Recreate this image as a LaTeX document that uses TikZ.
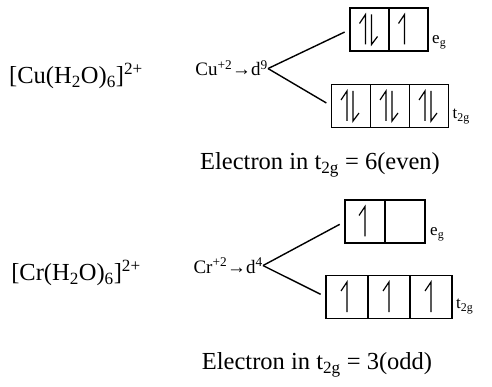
\documentclass[tikz,border=0pt]{standalone}
\usepackage{fontspec}
\setmainfont{Liberation Serif}
\usetikzlibrary{positioning,calc}
\tikzset{
  cplx/.style={font=\fontsize{24.5}{28}\selectfont, inner sep=0pt},
  ion/.style={font=\fontsize{19}{22}\selectfont, inner sep=0pt},
  lvl/.style={font=\fontsize{17}{20}\selectfont, inner sep=0pt, anchor=base west},
  orb/.style={draw, line width=1.3pt, minimum width=39pt, minimum height=43pt,
    inner sep=0pt, outer sep=0pt},
  split/.style={line width=1.4pt, shorten >=6pt},
  spinup/.pic={\draw[line width=1.2pt] (0,15) -- (0,-15) -- (-6,-6);},
  spindn/.pic={\draw[line width=1.2pt] (0,-15) -- (0,15) -- (6,7);},
}

\begin{document}
\begin{tikzpicture}[x=1pt,y=-1pt]
\useasboundingbox (0,0) rectangle (492,387);
% [Cu(H2O)6]2+, d9
\node[cplx] (cucplx) at (76,76) {[Cu(H\textsubscript{2}O)\textsubscript{6}]\textsuperscript{2+}};
\node[ion, anchor=base east] (cuion) at (268,76) {Cu\textsuperscript{+2}→d\textsuperscript{9}};
\node[orb] (cueg1) at (369.5,29.5) {};
\node[orb, right=0pt of cueg1] (cueg2) {};
\node[orb] (cut1) at (351,106) {};
\foreach \i [count=\j from 1] in {2,3}
  \node[orb, right=0pt of cut\j] (cut\i) {};
\node[lvl] (cuegl) at ($(cueg2.south east)+(4,-7)$) {e\textsubscript{g}};
\node[lvl] (cutl) at ($(cut3.south east)+(4,-9)$) {t\textsubscript{2g}};
\draw[split] (cuion.east) -- (cueg1.west);
\draw[split] (cuion.east) -- (cut1.west);
\pic at ($(cueg1.center)+(-4,0)$) {spinup};
\pic at ($(cueg1.center)+(2,0)$) {spindn};
\pic at ($(cueg2.center)+(-4,0)$) {spinup};
\foreach \i in {1,2,3} {
  \pic at ($(cut\i.center)+(-4,0)$) {spinup};
  \pic at ($(cut\i.center)+(2,0)$) {spindn};
}
\node[cplx] (cucount) at (320,165) {Electron in t\textsubscript{2g} = 6(even)};

% [Cr(H2O)6]2+, d4
\node[cplx] (crcplx) at (76,273) {[Cr(H\textsubscript{2}O)\textsubscript{6}]\textsuperscript{2+}};
\node[ion, anchor=base east] (crion) at (263,273) {Cr\textsuperscript{+2}→d\textsuperscript{4}};
\node[orb, minimum width=40pt] (creg1) at (365,221.5) {};
\node[orb, minimum width=40pt, right=0pt of creg1] (creg2) {};
\node[orb, minimum width=42pt] (crt1) at (347,297) {};
\foreach \i [count=\j from 1] in {2,3}
  \node[orb, minimum width=42pt, right=0pt of crt\j] (crt\i) {};
\node[lvl] (cregl) at ($(creg2.south east)+(5,-7)$) {e\textsubscript{g}};
\node[lvl] (crtl) at ($(crt3.south east)+(4,-10)$) {t\textsubscript{2g}};
\draw[split] (crion.east) -- (creg1.west);
\draw[split] (crion.east) -- (crt1.west);
\pic at ($(creg1.center)+(0,0)$) {spinup};
\foreach \i in {1,2,3}
  \pic at ($(crt\i.center)+(0,0)$) {spinup};
\node[cplx] (crcount) at (317,365) {Electron in t\textsubscript{2g} = 3(odd)};
\end{tikzpicture}
\end{document}
